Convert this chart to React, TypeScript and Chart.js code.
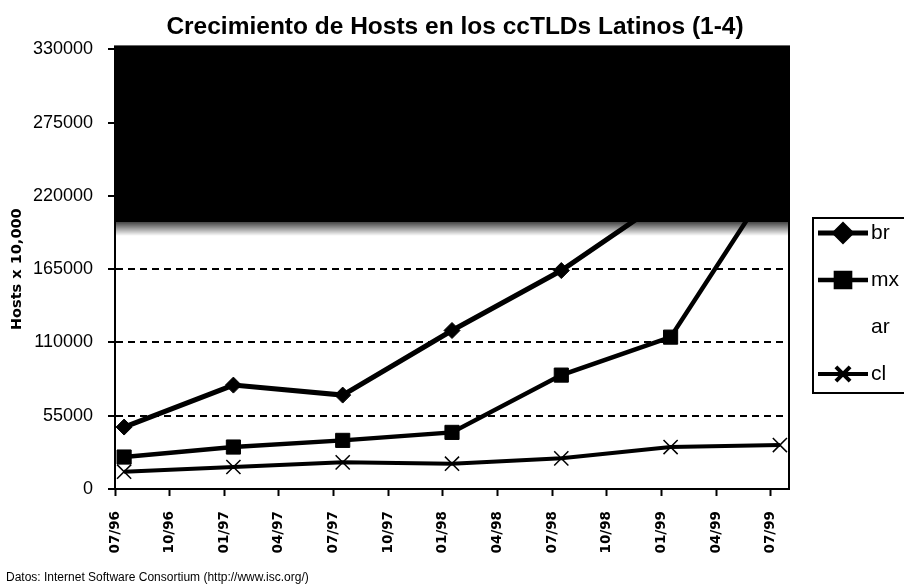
import React, { useEffect, useRef } from 'react';
import { Chart, registerables } from 'chart.js';
import { drawPoint } from 'chart.js/helpers';

Chart.register(...registerables);

// ---------- data ----------
const TITLE = 'Crecimiento de Hosts en los ccTLDs Latinos (1-4)';
const Y_TITLE = 'Hosts x 10,000';
const SOURCE = 'Datos: Internet Software Consortium (http://www.isc.org/)';
const TICK_LABELS = ['07/96', '10/96', '01/97', '04/97', '07/97', '10/97', '01/98', '04/98', '07/98', '10/98', '01/99', '04/99', '07/99'];
// survey dates, in months since 07/96 (surveys taken mid-month)
const SURVEY_MONTHS = [0.5, 6.5, 12.5, 18.5, 24.5, 30.5, 36.5];
const SERIES_NAMES = ['br', 'mx', 'ar', 'cl'];
const BR = [46500, 78000, 70500, 119000, 164000, 220000, 310000];
const MX = [24000, 31500, 36500, 42500, 85500, 114000, 240000];
const AR: (number | null)[] = [];
const CL = [13000, 16500, 20000, 19000, 23000, 31500, 33000];
const Y_MAX = 330000;
const Y_STEP = 55000;
const X_MAX = 37;
const X_STEP = 3;
const SHADE_FROM = 200000; // dark scan band covering the top of the plot
const SHADE_FADE = 190000;

const FONT = 'Liberation Sans, Arial, sans-serif';

const toPoints = (vals: (number | null)[]) => vals.map((v, i) => ({ x: SURVEY_MONTHS[i], y: v }));

const framePlugin = {
  id: 'frameAndLegend',
  afterDatasetsDraw(chart: any) {
    const { ctx, chartArea: a, scales } = chart;
    const y = scales.y;
    const yEdge = y.getPixelForValue(SHADE_FROM);
    const yFade = y.getPixelForValue(SHADE_FADE);
    ctx.save();
    ctx.fillStyle = '#000';
    ctx.fillRect(a.left, a.top - 3, a.right - a.left, yEdge - a.top + 3);
    const g = ctx.createLinearGradient(0, yEdge, 0, yFade);
    g.addColorStop(0, 'rgba(0,0,0,0.7)');
    g.addColorStop(1, 'rgba(0,0,0,0)');
    ctx.fillStyle = g;
    ctx.fillRect(a.left, yEdge, a.right - a.left, yFade - yEdge);
    ctx.strokeStyle = '#000';
    ctx.lineWidth = 2;
    ctx.strokeRect(a.left, a.top - 3, a.right - a.left, a.bottom - a.top + 3);
    ctx.restore();
  },
  afterDraw(chart: any) {
    const { ctx } = chart;
    const L = { left: 813, top: 218, bottom: 393, x0: 818, x1: 868, textX: 871, firstY: 233, gap: 47 };
    ctx.save();
    ctx.strokeStyle = '#000';
    ctx.lineWidth = 2;
    ctx.strokeRect(L.left, L.top, 200, L.bottom - L.top);
    ctx.font = `21px ${FONT}`;
    ctx.textBaseline = 'middle';
    ctx.fillStyle = '#000';
    chart.data.datasets.forEach((ds: any, i: number) => {
      const cy = L.firstY + i * L.gap;
      if (ds.borderWidth > 0) {
        ctx.lineWidth = ds.borderWidth;
        ctx.strokeStyle = ds.borderColor;
        ctx.beginPath();
        ctx.moveTo(L.x0, cy);
        ctx.lineTo(L.x1, cy);
        ctx.stroke();
        ctx.fillStyle = ds.pointBackgroundColor;
        ctx.strokeStyle = ds.pointBorderColor;
        drawPoint(ctx, { pointStyle: ds.pointStyle, radius: ds.pointRadius, borderWidth: ds.pointBorderWidth, rotation: 0 } as any, (L.x0 + L.x1) / 2, cy);
      }
      ctx.fillStyle = '#000';
      ctx.fillText(ds.label, L.textX, cy);
    });
    ctx.restore();
  },
};

export default function App() {
  const ref = useRef<HTMLCanvasElement | null>(null);

  useEffect(() => {
    if (!ref.current) return;
    const base = { borderColor: '#000', pointBackgroundColor: '#000', pointBorderColor: '#000', tension: 0, spanGaps: true, clip: false as any };
    const chart = new Chart(ref.current, {
      type: 'line',
      data: {
        datasets: [
          { ...base, label: SERIES_NAMES[0], data: toPoints(BR), borderWidth: 5, pointStyle: 'rectRot', pointRadius: 8, pointBorderWidth: 1 },
          { ...base, label: SERIES_NAMES[1], data: toPoints(MX), borderWidth: 4.5, pointStyle: 'rect', pointRadius: 10, pointBorderWidth: 1 },
          { ...base, label: SERIES_NAMES[2], data: toPoints(AR), borderWidth: 0, borderColor: 'rgba(0,0,0,0)', pointRadius: 0, pointBorderWidth: 0 },
          { ...base, label: SERIES_NAMES[3], data: toPoints(CL), borderWidth: 4, pointStyle: 'crossRot', pointRadius: 10, pointBorderWidth: 1.5 },
        ] as any,
      },
      options: {
        responsive: false,
        animation: false,
        layout: { padding: { left: 6, right: 0, top: 0, bottom: 0 } },
        plugins: {
          legend: { display: false },
          tooltip: { enabled: false },
          title: {
            display: true,
            text: TITLE,
            color: '#000',
            font: { family: FONT, size: 24.5, weight: 'bold' },
            padding: { top: 13, bottom: 7 },
          },
          subtitle: {
            display: true,
            text: SOURCE,
            position: 'bottom',
            align: 'start',
            color: '#000',
            font: { family: FONT, size: 12 },
            padding: { top: 0, bottom: 3 },
          },
        },
        scales: {
          x: {
            type: 'linear',
            min: 0,
            max: X_MAX,
            afterFit: (s: any) => { s.height = 81.6; },
            afterBuildTicks: (s: any) => { s.ticks = TICK_LABELS.map((_, i) => ({ value: i * X_STEP })); },
            ticks: {
              includeBounds: false,
              autoSkip: false,
              maxRotation: 90,
              minRotation: 90,
              padding: 15,
              color: '#000',
              font: { family: 'DejaVu Sans', size: 13.5, weight: 'bold' },
              callback: (v: any) => TICK_LABELS[Math.round(Number(v) / X_STEP)] ?? '',
            },
            grid: { drawOnChartArea: false, drawTicks: true, tickLength: 7, tickWidth: 2, tickColor: '#000', color: '#000' },
            border: { display: true, color: '#000', width: 2 },
          },
          y: {
            type: 'linear',
            min: 0,
            max: Y_MAX,
            afterFit: (s: any) => { s.width = 109; },
            ticks: {
              stepSize: Y_STEP,
              padding: 15,
              color: '#000',
              font: { family: FONT, size: 18 },
              callback: (v: any) => String(v),
            },
            grid: {
              color: (c: any) => (c.tick && c.tick.value === 0 ? 'rgba(0,0,0,0)' : '#000'),
              lineWidth: 2,
              tickLength: 7,
              tickWidth: 2,
              tickColor: '#000',
              tickBorderDash: [],
            },
            border: { display: true, color: '#000', width: 2, dash: [7, 5] },
            title: {
              display: true,
              text: Y_TITLE,
              color: '#000',
              font: { family: 'DejaVu Sans', size: 14.5, weight: 'bold' },
              padding: { top: 3, bottom: 0 },
            },
          },
          y2: {
            type: 'linear',
            position: 'right',
            display: true,
            min: 0,
            max: Y_MAX,
            afterFit: (s: any) => { s.width = 115; },
            ticks: { display: false },
            grid: { display: false, drawOnChartArea: false },
            border: { display: false },
          },
        },
      } as any,
      plugins: [framePlugin],
    });
    return () => chart.destroy();
  }, []);

  return (
    <div style={{ position: 'fixed', left: 0, top: 0, width: 904, height: 588, background: '#fff' }}>
      <canvas ref={ref} width={904} height={588} style={{ display: 'block' }} />
    </div>
  );
}
